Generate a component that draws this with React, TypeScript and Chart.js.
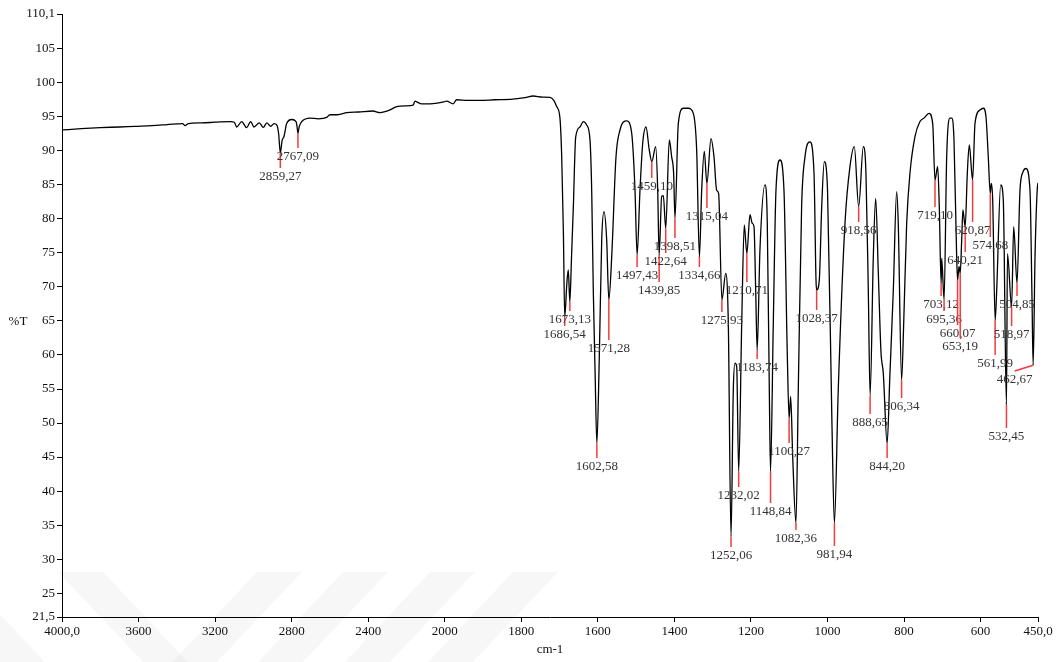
import React, { useEffect, useRef } from 'react';
import { Chart, LinearScale, registerables } from 'chart.js';

// ---------------- data ----------------
const X_MIN = 450;
const X_MAX = 4000;
const SCALE_BREAK = 2000; // axis is expanded 2x below 2000 cm-1
const Y_MIN = 21.5;
const Y_MAX = 110.1;

const xTickValues = [4000, 3600, 3200, 2800, 2400, 2000, 1800, 1600, 1400, 1200, 1000, 800, 600, 450];
const yTickValues = [21.5, 25, 30, 35, 40, 45, 50, 55, 60, 65, 70, 75, 80, 85, 90, 95, 100, 105, 110.1];

const spectrumWn = [
  4000, 3900, 3800, 3700, 3620, 3530, 3450, 3370, 3357, 3340, 3270, 3200, 3120, 3100,
  3087, 3061, 3035, 3014, 2997, 2969, 2948, 2930, 2909, 2892, 2878, 2868, 2859.27, 2850,
  2840, 2826, 2800, 2777, 2772, 2767.09, 2760, 2747, 2704, 2660, 2617, 2600, 2560, 2512,
  2450, 2375, 2340, 2312, 2280, 2251, 2200, 2166, 2155, 2147, 2120, 2077, 2040, 2004,
  1995, 1978, 1969, 1940, 1908, 1870, 1822, 1790, 1769, 1745, 1725, 1715, 1707.5, 1699,
  1694.4, 1690, 1686.54, 1681, 1677.2, 1673.13, 1669, 1664, 1657.9, 1646.6, 1637.9, 1629.1,
  1620.5, 1616, 1611.9, 1607, 1602.58, 1596.2, 1589.9, 1583.9, 1576.9, 1571.28, 1563.8,
  1552.6, 1542.1, 1524.6, 1511.6, 1502.9, 1497.43, 1489.9, 1482.8, 1474.2, 1465.6, 1459.1,
  1448.8, 1443.6, 1439.85, 1433.2, 1428.9, 1422.64, 1413.3, 1407.1, 1402, 1398.51, 1389.8,
  1376.7, 1363.7, 1350.6, 1341.8, 1334.66, 1328.7, 1321.9, 1315.04, 1304.4, 1296.5, 1289.6,
  1284.4, 1275.93, 1265.9, 1259.1, 1252.06, 1246.1, 1241.7, 1237.2, 1232.02, 1224.1, 1217.4,
  1210.71, 1202.5, 1196.5, 1192, 1187.6, 1183.74, 1176.5, 1163.3, 1157.3, 1152, 1148.84,
  1141.6, 1134.6, 1124.1, 1113.7, 1104.9, 1100.27, 1096.2, 1090.9, 1082.36, 1076.3, 1067.6,
  1058.8, 1045.7, 1035.2, 1030, 1028.37, 1021.4, 1015.1, 1008.3, 999.9, 988.4, 981.94,
  971.9, 954.3, 941.2, 929.9, 918.56, 906.4, 899.5, 893.4, 888.65, 880.3, 874.1, 867.2,
  860.3, 854.2, 844.2, 836.8, 828, 819.3, 815.1, 806.34, 800.9, 793.1, 784.5, 771.5, 758.4,
  747.9, 734.8, 725.1, 719.1, 712.1, 707.9, 703.12, 701.6, 695.36, 688.6, 680, 675.5, 669.5,
  662.5, 660.07, 656.4, 653.19, 649.4, 646.2, 640.21, 634.7, 629.5, 620.87, 614.6, 601.6,
  592.9, 585.9, 579.9, 574.68, 572, 568.4, 561.99, 557.9, 547.5, 540.7, 532.45, 529.8,
  518.97, 513.5, 504.85, 497.1, 489.2, 481.4, 470.9, 465.6, 462.67, 457.8, 452.1, 450,
];

const spectrumT = [
  93.06, 93.25, 93.4, 93.5, 93.6, 93.7, 93.85, 94.0, 93.7, 94.0, 94.1, 94.2, 94.3, 94.2,
  93.5, 94.3, 93.4, 94.3, 93.5, 94.1, 93.45, 94.1, 93.6, 94.0, 93.8, 92.5, 89.7, 91.5,
  92.1, 94.0, 94.6, 94.3, 93.6, 92.6, 93.6, 94.3, 94.8, 94.7, 94.9, 95.3, 95.3, 95.6,
  95.7, 95.85, 95.6, 95.75, 96.1, 96.5, 96.6, 96.7, 97.3, 97.2, 96.9, 96.9, 97.0, 97.2,
  97.3, 96.9, 97.5, 97.4, 97.4, 97.5, 97.6, 97.8, 98.05, 97.9, 97.86, 97.4, 96.5, 94.8,
  89.1, 78, 65.6, 70.5, 72.5, 67.8, 74, 81.8, 92.0, 93.5, 94.3, 93.8,
  91.6, 84, 69.5, 57, 47.0, 59.75, 76.9, 81.05, 76.9, 68.1, 74.4,
  89.1, 93.06, 94.4, 92.6, 84.2, 74.7, 84.2, 91.1, 93.5, 90.1, 88.4,
  90.6, 84.2, 74.7, 83.3, 83.4, 78.6, 91.6, 89.1, 86.7, 80.1, 94.0,
  96.25, 96.25, 95.5, 90.1, 74.4, 84.2, 89.9, 85.2, 91.8, 89.1, 84.2,
  83.7, 68.1, 72.0, 64.6, 33.3, 54.85, 58.8, 58.3, 42.85, 64.7, 79.1,
  74.9, 80.6, 79.35, 78.85, 69.55, 60.7, 75.4, 85.0, 79.35, 54.85, 42.85,
  64.65, 84.2, 88.65, 84.2, 59.75, 50.7, 53.9, 45.05, 35.3, 54.85, 81.8,
  89.1, 91.3, 86.7, 71.0, 69.55, 71.0, 81.8, 88.4, 84.2, 50.0, 35.3,
  54.85, 79.35, 87.7, 90.6, 81.8, 90.6, 86.7, 69.55, 54.1, 74.4, 83.0, 72.0,
  60.5, 57.3, 47.0, 57.3, 69.55, 84.0, 79.35, 56.3, 64.65, 79.35, 86.7, 92.07, 94.3,
  94.8, 95.5, 94.0, 85.7, 87.7, 81.8, 70.5, 74.2, 68.1, 89.1, 94.8, 94.8, 91.6,
  74.4, 71.0, 73.0, 72.0, 76.9, 81.3, 78.85, 86.7, 90.85, 85.7, 94.04, 96.0,
  96.25, 95.0, 89.1, 83.75, 85.2, 82.8, 65.1, 69.55, 85.0, 82.8, 52.65, 74.9,
  67.1, 78.85, 70.5, 84.2, 86.9, 87.4, 84.2, 68.1, 58.5, 74.4, 84.2, 85.3,
];

// labelled peaks
const peakWn = [
  2859.27, 2767.09, 1686.54, 1673.13, 1602.58, 1571.28, 1497.43, 1459.1, 1439.85, 1422.64,
  1398.51, 1334.66, 1315.04, 1275.93, 1252.06, 1232.02, 1210.71, 1183.74, 1148.84, 1100.27,
  1082.36, 1028.37, 981.94, 918.56, 888.65, 844.2, 806.34, 719.1, 703.12, 695.36,
  660.07, 653.19, 640.21, 620.87, 574.68, 561.99, 532.45, 518.97, 504.85, 462.67,
];
const peakT = [
  89.7, 92.6, 65.6, 67.8, 47.0, 68.1, 74.7, 88.4, 74.7, 78.6,
  80.1, 74.4, 85.2, 68.1, 33.3, 42.85, 74.9, 60.7, 42.85, 50.7,
  35.3, 69.55, 35.3, 81.8, 54.1, 47.0, 56.3, 85.7, 70.5, 68.1,
  71.0, 72.0, 78.85, 85.7, 83.75, 65.1, 52.65, 67.1, 70.5, 58.5,
];
// %T where each red marker ends (the label hangs below it)
const peakMarkEndT = [
  87.47, 90.41, 64.26, 66.46, 44.86, 62.2, 72.93, 86.0, 70.72, 74.98,
  77.19, 72.93, 81.6, 66.32, 31.79, 40.6, 70.72, 59.4, 38.25, 47.07,
  34.28, 66.6, 31.93, 79.54, 51.33, 44.86, 53.68, 81.74, 68.67, 66.46,
  64.4, 62.5, 75.13, 79.54, 77.33, 60.0, 49.27, 64.26, 68.67, 57.65,
];
// wavenumber at which each label is centred
const peakLabelWn = [
  2859.27, 2767.09, 1686.54, 1673.13, 1602.58, 1571.28, 1497.43, 1459.1, 1439.85, 1422.64,
  1398.51, 1334.66, 1315.04, 1275.93, 1252.06, 1232.02, 1210.71, 1183.74, 1148.84, 1100.27,
  1082.36, 1028.37, 981.94, 918.56, 888.65, 844.2, 806.34, 719.1, 703.12, 695.36,
  660.07, 653.19, 640.21, 620.87, 574.68, 561.99, 532.45, 518.97, 504.85, 511,
];

const X_TITLE = 'cm-1';
const Y_TITLE = '%T';

// ---------------- scale with 2x expansion below 2000 cm-1 ----------------
function toAxisUnits(v: number) {
  return v >= SCALE_BREAK ? (X_MAX - v) / 2 : (X_MAX - SCALE_BREAK) / 2 + (SCALE_BREAK - v);
}
function fromAxisUnits(u: number) {
  const uBreak = (X_MAX - SCALE_BREAK) / 2;
  return u <= uBreak ? X_MAX - 2 * u : SCALE_BREAK - (u - uBreak);
}

class BreakScale extends LinearScale {
  static id = 'breakLinear';
  static defaults = {};
  getPixelForValue(value: any) {
    if (value === null || value === undefined || isNaN(value)) return NaN;
    const total = toAxisUnits(X_MIN);
    return this.getPixelForDecimal(toAxisUnits(+value) / total);
  }
  getValueForPixel(pixel: number) {
    const total = toAxisUnits(X_MIN);
    return fromAxisUnits(this.getDecimalForPixel(pixel) * total);
  }
}

Chart.register(...registerables, BreakScale as any);

const FONT = '"Liberation Serif", "Times New Roman", serif';

const fmtComma = (v: number, digits: number) => v.toFixed(digits).replace('.', ',');

const watermarkPlugin = {
  id: 'watermark',
  beforeDraw(chart: any) {
    const { ctx } = chart;
    ctx.save();
    ctx.fillStyle = 'rgba(0,0,0,0.032)';
    const top = 572, bottom = 662, shift = 85, w = 45;
    [-85, 58].forEach((a) => {
      ctx.beginPath();
      ctx.moveTo(a, top); ctx.lineTo(a + w, top);
      ctx.lineTo(a + w + shift, bottom); ctx.lineTo(a + shift, bottom);
      ctx.closePath(); ctx.fill();
    });
    [257, 343, 430, 513].forEach((b) => {
      ctx.beginPath();
      ctx.moveTo(b, top); ctx.lineTo(b + w, top);
      ctx.lineTo(b + w - shift, bottom); ctx.lineTo(b - shift, bottom);
      ctx.closePath(); ctx.fill();
    });
    ctx.restore();
  },
};

const peaksPlugin = {
  id: 'peaks',
  afterDatasetsDraw(chart: any) {
    const { ctx, scales, chartArea } = chart;
    const xs = scales.x, ys = scales.y;
    ctx.save();
    ctx.lineWidth = 1.5;
    ctx.strokeStyle = '#f23c3c';
    ctx.fillStyle = '#333';
    ctx.font = `13px ${FONT}`;
    ctx.textAlign = 'center';
    ctx.textBaseline = 'top';
    peakWn.forEach((wn, i) => {
      const x0 = xs.getPixelForValue(wn);
      const y0 = ys.getPixelForValue(peakT[i]);
      const x1 = xs.getPixelForValue(peakLabelWn[i]);
      const y1 = ys.getPixelForValue(peakMarkEndT[i]);
      ctx.beginPath();
      ctx.moveTo(x0, y0);
      ctx.lineTo(x1, y1);
      ctx.stroke();
      ctx.fillText(fmtComma(wn, 2), x1, y1 + 2);
    });
    // axis titles
    ctx.fillStyle = '#111';
    ctx.textBaseline = 'middle';
    ctx.fillText(Y_TITLE, chartArea.left - 44, (chartArea.top + chartArea.bottom) / 2 + 6);
    ctx.fillText(X_TITLE, (chartArea.left + chartArea.right) / 2, chartArea.bottom + 33);
    ctx.restore();
  },
};

export default function App() {
  const ref = useRef<HTMLCanvasElement>(null);
  useEffect(() => {
    document.body.style.margin = '0';
    const data = spectrumWn.map((wn, i) => ({ x: wn, y: spectrumT[i] }));
    const chart = new Chart(ref.current as HTMLCanvasElement, {
      type: 'line',
      data: {
        datasets: [
          {
            data,
            borderColor: '#000',
            borderWidth: 1.3,
            pointRadius: 0,
            fill: false,
            cubicInterpolationMode: 'monotone',
          } as any,
        ],
      },
      options: {
        animation: false,
        responsive: false,
        events: [],
        layout: { padding: { top: 14, right: 23, left: 0, bottom: 0 } },
        plugins: { legend: { display: false }, tooltip: { enabled: false } },
        scales: {
          x: {
            type: 'breakLinear' as any,
            min: X_MIN,
            max: X_MAX,
            afterBuildTicks: (s: any) => {
              s.ticks = xTickValues.map((v) => ({ value: v }));
            },
            afterFit: (s: any) => {
              s.height = 45;
            },
            grid: { display: true, drawOnChartArea: false, drawTicks: true, tickLength: 5, color: '#000', lineWidth: 1 },
            border: { display: true, color: '#000', width: 1 },
            ticks: {
              autoSkip: false,
              maxRotation: 0,
              minRotation: 0,
              padding: 2,
              color: '#111',
              font: { family: FONT, size: 13 },
              callback: (v: any) => (v === X_MAX || v === X_MIN ? fmtComma(+v, 1) : String(v)),
            },
          } as any,
          y: {
            type: 'linear',
            min: Y_MIN,
            max: Y_MAX,
            afterBuildTicks: (s: any) => {
              s.ticks = yTickValues.map((v) => ({ value: v }));
            },
            afterFit: (s: any) => {
              s.width = 62;
            },
            grid: { display: true, drawOnChartArea: false, drawTicks: true, tickLength: 5, color: '#000', lineWidth: 1 },
            border: { display: true, color: '#000', width: 1 },
            ticks: {
              autoSkip: false,
              padding: 2,
              color: '#111',
              font: { family: FONT, size: 13 },
              callback: (v: any) => String(v).replace('.', ','),
            },
          },
        },
      },
      plugins: [watermarkPlugin, peaksPlugin],
    });
    return () => chart.destroy();
  }, []);
  return (
    <div style={{ position: 'fixed', left: 0, top: 0, width: 1061, height: 662, background: '#fff' }}>
      <canvas ref={ref} width={1061} height={662} style={{ display: 'block', width: 1061, height: 662 }} />
    </div>
  );
}
